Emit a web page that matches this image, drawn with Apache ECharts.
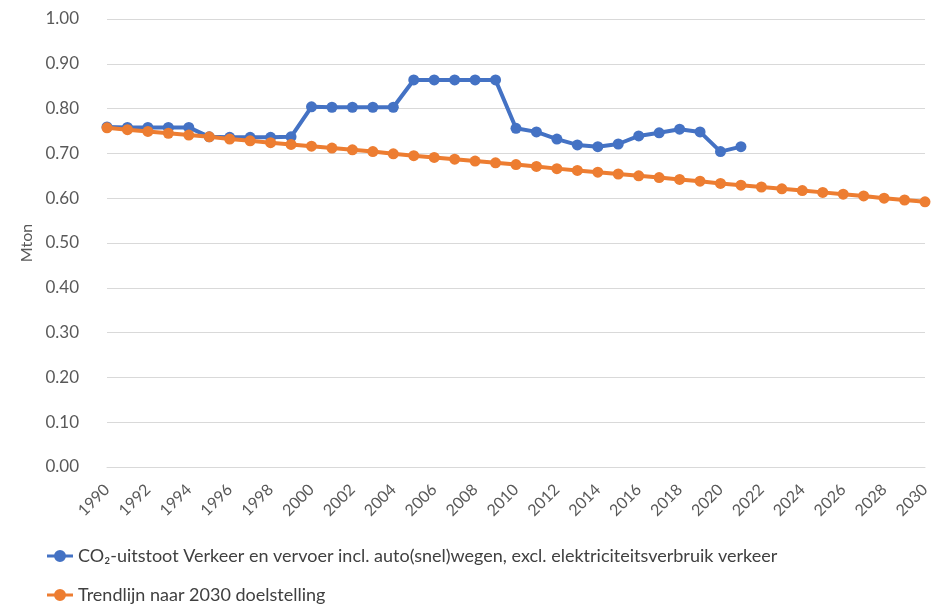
<!DOCTYPE html>
<html>
<head>
<meta charset="utf-8">
<script src="https://cdn.jsdelivr.net/npm/echarts@6/dist/echarts.min.js"></script>
<style>
html,body{margin:0;padding:0;background:#fff;}
#main{width:935px;height:606px;}
</style>
</head>
<body>
<div id="main"></div>
<script>
// jaren 1990 - 2030
var years = [];
for (var y = 1990; y <= 2030; y++) { years.push(String(y)); }

// CO2-uitstoot (Mton), 1990 - 2021
var uitstoot = [0.759, 0.758, 0.758, 0.758, 0.758, 0.737, 0.736, 0.736, 0.736, 0.737,
	0.804, 0.803, 0.803, 0.803, 0.803, 0.864, 0.864, 0.864, 0.864, 0.864,
	0.756, 0.748, 0.732, 0.719, 0.715, 0.721, 0.739, 0.746, 0.754, 0.748,
	0.704, 0.715];

// trendlijn naar 2030
var trendlijn = [0.757, 0.753, 0.749, 0.745, 0.741, 0.737, 0.732, 0.728, 0.724, 0.720,
	0.716, 0.712, 0.708, 0.704, 0.699, 0.695, 0.691, 0.687, 0.683, 0.679,
	0.675, 0.671, 0.666, 0.662, 0.658, 0.654, 0.650, 0.646, 0.642, 0.638,
	0.633, 0.629, 0.625, 0.621, 0.617, 0.613, 0.609, 0.605, 0.600, 0.596,
	0.592];

var naamBlauw = 'CO₂-uitstoot Verkeer en vervoer incl. auto(snel)wegen, excl. elektriciteitsverbruik verkeer';
var naamOranje = 'Trendlijn naar 2030 doelstelling';

var font = 'Lato, "Open Sans", sans-serif';

// dikke lijn met bolletje als legenda-icoon
var lijnIcoon = 'path://M0,4.6 L26,4.6 L26,7.4 L0,7.4 Z M7,6 A6,6 0 1,1 19,6 A6,6 0 1,1 7,6 Z';

// legenda, een per regel
function legenda(naam, top) {
	return {
		left: 47,
		top: top,
		padding: 0,
		icon: lijnIcoon,
		itemWidth: 26,
		itemHeight: 12,
		textStyle: { fontFamily: font, fontSize: 18, color: '#404040' },
		data: [naam]
	};
}

var myChart = echarts.init(document.getElementById('main'));
var option = {
	animation: false,
	textStyle: { fontFamily: font },
	grid: { left: 107, right: 10, top: 19, bottom: 139 },
	legend: [legenda(naamBlauw, 547), legenda(naamOranje, 586)],
	xAxis: {
		type: 'category',
		data: years,
		boundaryGap: false,
		axisLine: { lineStyle: { color: '#d9d9d9', width: 1 } },
		axisTick: { show: false },
		axisLabel: {
			interval: 1,
			rotate: 45,
			fontSize: 16,
			color: '#595959',
			fontFamily: font,
			margin: 20
		}
	},
	yAxis: {
		type: 'value',
		min: 0,
		max: 1,
		interval: 0.1,
		name: 'Mton',
		nameLocation: 'middle',
		nameGap: 68,
		nameTextStyle: { fontSize: 16, color: '#595959', fontFamily: font },
		axisLine: { show: false },
		axisTick: { show: false },
		splitLine: { lineStyle: { color: '#d9d9d9', width: 1 } },
		axisLabel: {
			fontSize: 17,
			color: '#595959',
			fontFamily: font,
			margin: 28,
			formatter: function (v) { return v.toFixed(2); }
		}
	},
	series: [
		{
			name: naamBlauw,
			type: 'line',
			data: uitstoot,
			symbol: 'circle',
			symbolSize: 11,
			z: 3,
			lineStyle: { width: 4, color: '#4472c4' },
			itemStyle: { color: '#4472c4' }
		},
		{
			name: naamOranje,
			type: 'line',
			data: trendlijn,
			symbol: 'circle',
			symbolSize: 11,
			z: 4,
			lineStyle: { width: 4, color: '#ed7d31' },
			itemStyle: { color: '#ed7d31' }
		}
	]
};
myChart.setOption(option);
</script>
</body>
</html>
